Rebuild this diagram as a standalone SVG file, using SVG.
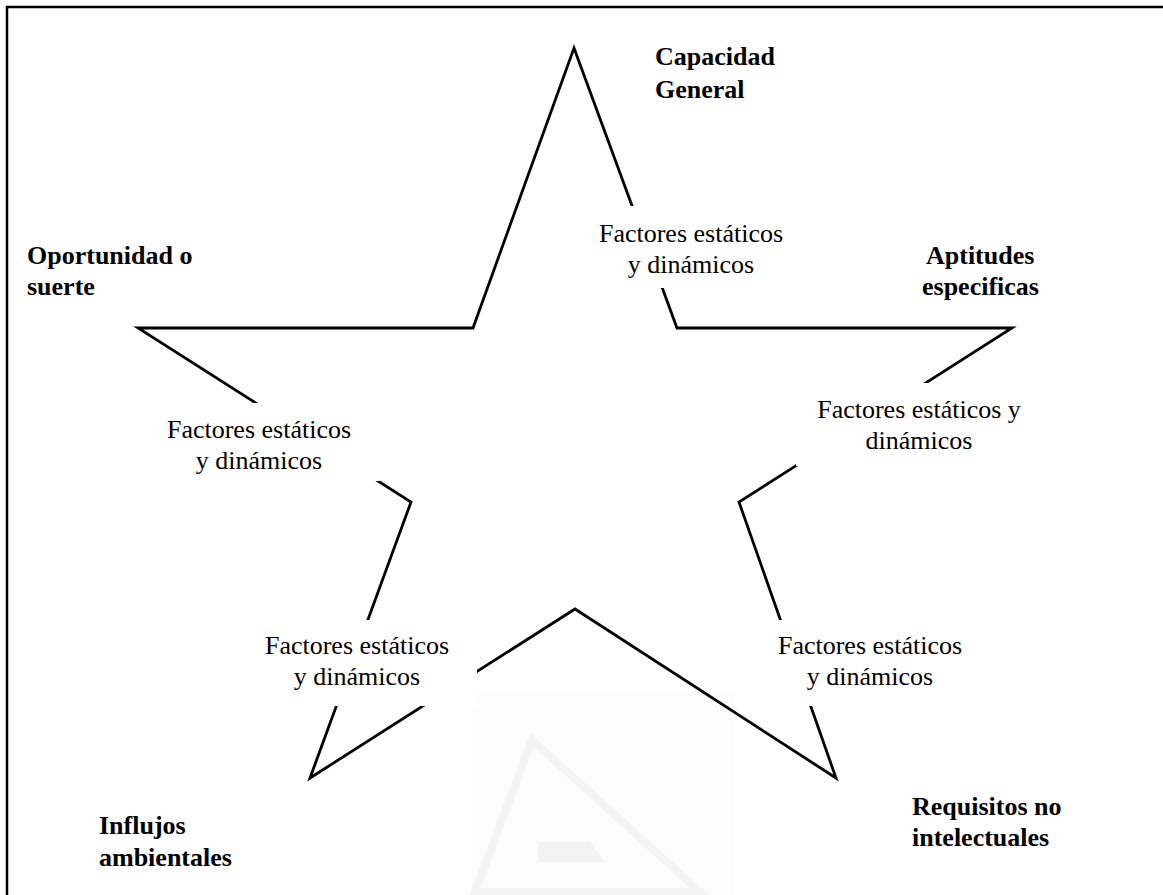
<svg xmlns="http://www.w3.org/2000/svg" width="1163" height="895" viewBox="0 0 1163 895">
  <style>
    .frame { fill: none; stroke: #000; stroke-width: 2.5; }
    .star { fill: none; stroke: #000; stroke-width: 2.8; stroke-linejoin: miter; stroke-miterlimit: 20; }
    .box { fill: #fff; stroke: none; }
    .factor { font-family: "Liberation Serif", "DejaVu Serif", serif; font-size: 26px; fill: #000; text-anchor: middle; }
    .label { font-family: "Liberation Serif", "DejaVu Serif", serif; font-size: 26px; font-weight: bold; fill: #000; }
    .mark { fill: none; stroke: #f4f4f4; stroke-width: 8; stroke-linejoin: miter; }
  </style>

  <rect x="0" y="0" width="1163" height="895" fill="#fff"/>

  <!-- faint logo in the lower middle -->
  <g id="logo">
    <rect x="472" y="694" width="263" height="201" fill="#fcfcfc"/>
    <polygon class="mark" points="532,740 700,892 475,892"/>
    <polygon points="538,842 590,842 605,862 538,862" fill="#f3f3f3"/>
  </g>

  <!-- outer frame (runs past the right and bottom edges) -->
  <rect class="frame" x="7" y="7" width="1170" height="900"/>

  <!-- five-pointed outline -->
  <g id="connectors">
    <polygon class="star" points="574,48 677,328 1012,328 739,502 836,778 575,609 310,778 411,502 138,328 473,328"/>
  </g>

  <!-- text boxes sitting over the outline -->
  <g id="factor-top">
    <rect class="box" x="580" y="206" width="222" height="82"/>
    <text class="factor" x="691" y="242">Factores estáticos</text>
    <text class="factor" x="691" y="273">y dinámicos</text>
  </g>
  <g id="factor-left">
    <rect class="box" x="138" y="403" width="242" height="78"/>
    <text class="factor" x="259" y="438">Factores estáticos</text>
    <text class="factor" x="259" y="469">y dinámicos</text>
  </g>
  <g id="factor-right">
    <rect class="box" x="796" y="383" width="246" height="83"/>
    <text class="factor" x="919" y="418">Factores estáticos y</text>
    <text class="factor" x="919" y="449">dinámicos</text>
  </g>
  <g id="factor-bottom-left">
    <rect class="box" x="237" y="620" width="240" height="86"/>
    <text class="factor" x="357" y="654">Factores estáticos</text>
    <text class="factor" x="357" y="685">y dinámicos</text>
  </g>
  <g id="factor-bottom-right">
    <rect class="box" x="750" y="620" width="240" height="86"/>
    <text class="factor" x="870" y="654">Factores estáticos</text>
    <text class="factor" x="870" y="685">y dinámicos</text>
  </g>

  <!-- point labels -->
  <g id="capacidad-general">
    <text class="label" x="655" y="65">Capacidad</text>
    <text class="label" x="655" y="98">General</text>
  </g>
  <g id="oportunidad">
    <text class="label" x="27" y="264">Oportunidad o</text>
    <text class="label" x="27" y="295">suerte</text>
  </g>
  <g id="aptitudes">
    <text class="label" x="926" y="264">Aptitudes</text>
    <text class="label" x="922" y="295">especificas</text>
  </g>
  <g id="requisitos">
    <text class="label" x="912" y="815">Requisitos no</text>
    <text class="label" x="912" y="846">intelectuales</text>
  </g>
  <g id="influjos">
    <text class="label" x="99" y="834">Influjos</text>
    <text class="label" x="99" y="866">ambientales</text>
  </g>
</svg>
